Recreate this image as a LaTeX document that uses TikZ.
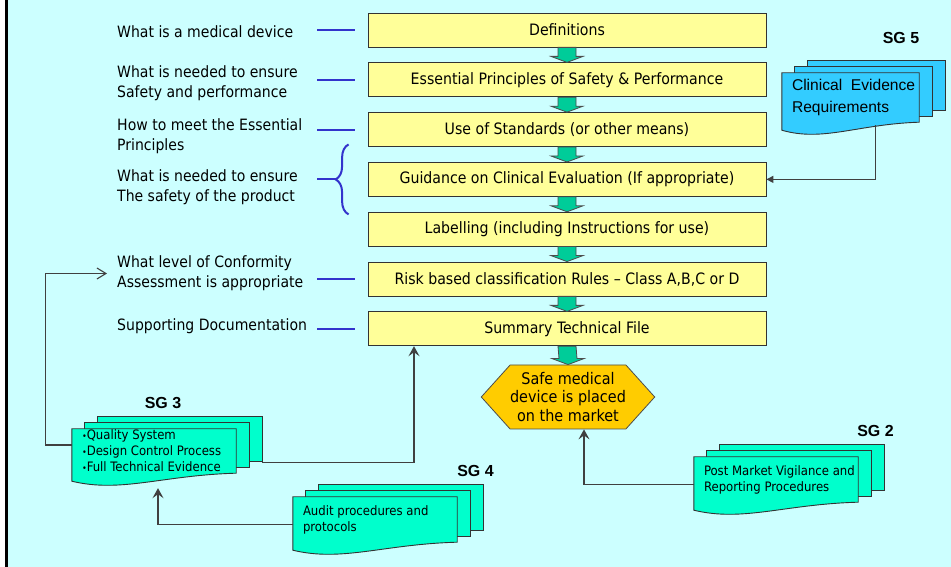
\documentclass[tikz,border=0pt]{standalone}
\usepackage{fontspec}
\setmainfont{DejaVu Sans Condensed}
\newfontfamily\arialfont{Liberation Sans}
\usetikzlibrary{arrows.meta, positioning, shapes.symbols, decorations.pathreplacing}
\definecolor{bgcyan}{HTML}{CCFFFF}
\definecolor{boxyellow}{HTML}{FFFF99}
\definecolor{flowgreen}{HTML}{00CC99}
\definecolor{mktorange}{HTML}{FFCC00}
\definecolor{evblue}{HTML}{33CCFF}
\definecolor{docgreen}{HTML}{00FFCC}
\definecolor{markblue}{HTML}{3333CC}
\tikzset{
  stage/.style={draw=black!80, fill=boxyellow, line width=0.8pt, minimum width=398pt,
                minimum height=34pt, inner sep=0pt, font=\fontsize{15.7}{20}\selectfont},
  ask/.style={anchor=west, align=left, inner sep=0pt, font=\fontsize{15.6}{20}\selectfont},
  bar/.style={markblue, line width=2pt},
  fatar/.style={draw=black!70, fill=flowgreen, line width=0.8pt},
  link/.style={black!75, line width=1.1pt},
  sheet/.style={draw=black!80, line width=0.9pt},
  sheetbox/.style={minimum width=#1, minimum height=45pt, inner sep=0pt},
  doctext/.style={anchor=west, align=left, inner sep=0pt, font=\fontsize{13}{16}\selectfont},
  sgname/.style={font=\arialfont\bfseries\fontsize{16}{18}\selectfont},
  up/.style={-{Stealth[length=10pt,width=11pt,inset=4pt]}},
}
% green block arrow from the bottom of #1 to the top of #2
\newcommand{\fatarrow}[2]{%
  \draw[fatar] ([xshift=-9pt]#1.south) -- ([xshift=-9pt,yshift=6pt]#2.north)
    -- ([xshift=-16pt,yshift=6pt]#2.north) -- (#2.north)
    -- ([xshift=16pt,yshift=6pt]#2.north) -- ([xshift=9pt,yshift=6pt]#2.north)
    -- ([xshift=9pt]#1.south) -- cycle;}
% three stacked sheets behind node #1, width #2, colour #3
\newcommand{\docstack}[3]{%
  \foreach \k in {2,1}
    \draw[sheet, fill=#3] ([shift={(13*\k,6*\k)}]#1.south west) rectangle ([shift={(13*\k,6*\k)}]#1.north east);
  \draw[sheet, fill=#3] (#1.south east) -- (#1.north east) -- (#1.north west) -- ([yshift=-8pt]#1.south west)
    .. controls ([shift={(0.3*#2,-20)}]#1.south west) and ([shift={(-0.45*#2,-2)}]#1.south east) .. (#1.south east) -- cycle;}

\begin{document}
\begin{tikzpicture}[x=1pt, y=1pt, node distance=15pt]
  \useasboundingbox (0,0) rectangle (951,567);
  \fill[bgcyan] (8,0) rectangle (951,567);
  \fill[black] (5,0) rectangle (8,567);

  % main chain
  \node[stage] (b1) at (567,537) {Definitions};
  \node[stage, below=of b1] (b2) {Essential Principles of Safety \& Performance};
  \node[stage, below=of b2] (b3) {Use of Standards (or other means)};
  \node[stage, below=of b3] (b4) {Guidance on Clinical Evaluation (If appropriate)};
  \node[stage, below=of b4] (b5) {Labelling (including Instructions for use)};
  \node[stage, below=of b5] (b6) {Risk based classification Rules -- Class A,B,C or D};
  \node[stage, below=of b6] (b7) {Summary Technical File};
  \node[signal, signal to=west and east, signal pointer angle=96, draw=black!70, fill=mktorange,
        line width=0.8pt, minimum height=64pt, inner xsep=0pt, inner ysep=0pt, align=center,
        font=\fontsize{16}{18.5}\selectfont] (mkt) at (568,170)
        {Safe medical\\device is placed\\on the market};

  \fatarrow{b1}{b2}
  \fatarrow{b2}{b3}
  \fatarrow{b3}{b4}
  \fatarrow{b4}{b5}
  \fatarrow{b5}{b6}
  \fatarrow{b6}{b7}
  \fatarrow{b7}{mkt}

  % questions on the left
  \node[ask] (q1) at (117,535) {What is a medical device};
  \node[ask] (q2) at (117,484) {What is needed to ensure\\Safety and performance};
  \node[ask] (q3) at (117,431) {How to meet the Essential\\Principles};
  \node[ask] (q4) at (117,379.5) {What is needed to ensure\\The safety of the product};
  \node[ask] (q5) at (117,293.5) {What level of Conformity\\Assessment is appropriate};
  \node[ask] (q6) at (117,241) {Supporting Documentation};

  \foreach \b in {b1,b2,b3,b6,b7}
    \draw[bar] ([xshift=-13pt]\b.west) -- ++(-38,0);
  \draw[bar, decorate, decoration={brace, amplitude=13pt}]
    ([xshift=-19pt,yshift=-35pt]b4.west) -- ([xshift=-19pt,yshift=35pt]b4.west);
  \draw[bar] ([xshift=-32pt]b4.west) -- ++(-19,0);

  % study group documents
  \node[sheetbox=137pt, minimum height=49pt] (sg5) at (850.5,469.5) {};
  \docstack{sg5}{137}{evblue}
  \node[doctext, font=\arialfont\fontsize{15.6}{22}\selectfont] (sg5txt) at ([xshift=10pt]sg5.west)
    {Clinical\ \ Evidence\\Requirements};

  \node[sheetbox=164pt, minimum height=44pt] (sg3) at (154,116) {};
  \docstack{sg3}{164}{docgreen}
  \node[doctext] (sg3txt) at ([xshift=10pt]sg3.west)
    {{\fontsize{9}{9}\selectfont•}Quality System\\{\fontsize{9}{9}\selectfont•}Design Control Process\\{\fontsize{9}{9}\selectfont•}Full Technical Evidence};

  \node[sheetbox=164pt] (sg4) at (375,47.5) {};
  \docstack{sg4}{164}{docgreen}
  \node[doctext] (sg4txt) at ([xshift=10pt]sg4.west) {Audit procedures and\\protocols};

  \node[sheetbox=164pt] (sg2) at (776,87.5) {};
  \docstack{sg2}{164}{docgreen}
  \node[doctext] (sg2txt) at ([xshift=10pt]sg2.west) {Post Market Vigilance and\\Reporting Procedures};

  \node[sgname] (sg5name) at (901,529) {SG 5};
  \node[sgname] (sg3name) at (163,164) {SG 3};
  \node[sgname] (sg4name) at (475.5,96) {SG 4};
  \node[sgname] (sg2name) at (875.5,136) {SG 2};

  % links
  \draw[link, -{Triangle[length=7pt,width=7pt]}] ([xshift=25pt,yshift=-3pt]sg5.south) |- (b4.east);
  \draw[link, -{Straight Barb[length=9pt,width=11pt]}, shorten >=10pt]
    ([yshift=6pt]sg3.west) -- ++(-26,0) |- (q5.west);
  \draw[link, up] ([shift={(26,11)}]sg3.south east) -| ([xshift=-153pt]b7.south);
  \draw[link, up] ([yshift=-5pt]sg4.west) -| ([xshift=4pt,yshift=-15pt]sg3.south);
  \draw[link, up] ([yshift=-5pt]sg2.west) -| ([xshift=16pt]mkt.south);
\end{tikzpicture}
\end{document}
